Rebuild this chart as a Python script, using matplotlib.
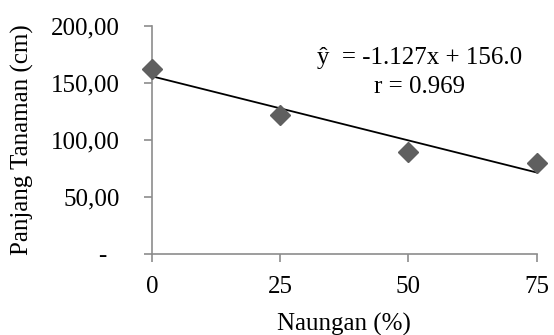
import matplotlib
matplotlib.use("Agg")
import matplotlib.pyplot as plt

naungan = [0, 25, 50, 75]
panjang = [162.5, 122.0, 89.7, 80.0]
slope = -1.127
intercept = 156.0
r_value = 0.969
yticks = [0, 50, 100, 150, 200]
ylabels = ["-  ", "50,00", "100,00", "150,00", "200,00"]

plt.rcParams['font.family'] = ['Liberation Serif', 'DejaVu Serif']
fs = 18

fig = plt.figure(figsize=(5.54, 3.35), dpi=100)
ax = fig.add_axes([0.274, 0.242, 0.695, 0.680])

xfit = [naungan[0], naungan[-1]]
yfit = [slope * x + intercept for x in xfit]
ax.plot(xfit, yfit, color="black", lw=1.3, zorder=2)
ax.plot(naungan, panjang, "D", color="#5f5f5f", markersize=10, zorder=3, clip_on=False)

ax.set_xlim(0, 75)
ax.set_ylim(0, 200)
ax.set_xticks(naungan)
ax.set_yticks(yticks)
ax.set_yticklabels(ylabels)
for s in ["top", "right"]:
    ax.spines[s].set_visible(False)
for s in ["left", "bottom"]:
    ax.spines[s].set_color("#8c8c8c")
    ax.spines[s].set_linewidth(1.2)
ax.tick_params(axis="y", direction="out", length=6, color="#8c8c8c", width=1.2, pad=17, labelsize=fs)
ax.tick_params(axis="x", direction="out", length=6, color="#8c8c8c", width=1.2, pad=10, labelsize=fs)

ax.set_xlabel("Naungan (%)", fontsize=fs, va="center")
ax.set_ylabel("Panjang Tanaman (cm)", fontsize=fs, va="center")
ax.xaxis.set_label_coords(0.5, -0.31)
ax.yaxis.set_label_coords(-0.335, 0.5)

ax.text(0.696, 0.86, "ŷ  = %.3fx + %.1f" % (slope, intercept), transform=ax.transAxes,
        ha="center", va="center", fontsize=fs)
ax.text(0.696, 0.732, "r = %.3f" % r_value, transform=ax.transAxes,
        ha="center", va="center", fontsize=fs)

fig.savefig("out.png", dpi=100)
